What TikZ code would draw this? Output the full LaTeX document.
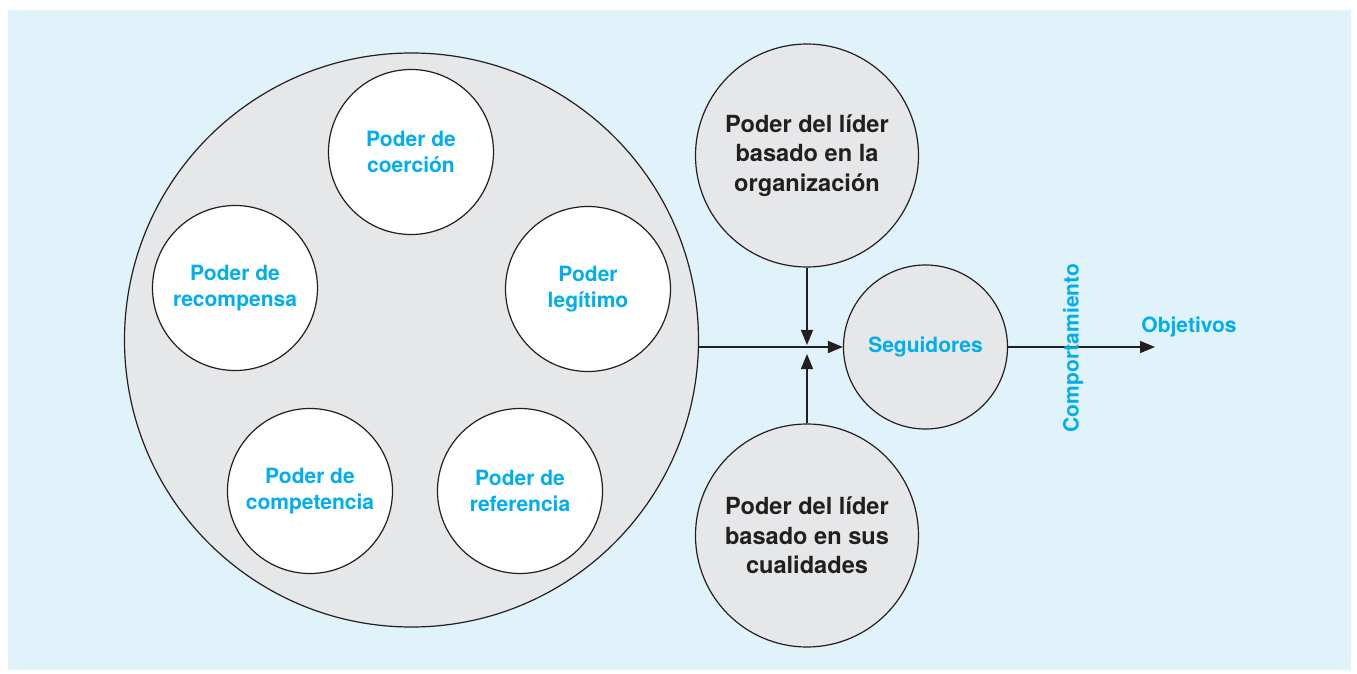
\documentclass[tikz,border=0pt]{standalone}
\usepackage{fontspec}
\setmainfont{TeX Gyre Heros}
\usetikzlibrary{arrows.meta,positioning}

\definecolor{fondo}{RGB}{224,243,251}
\definecolor{gris}{RGB}{230,231,232}
\definecolor{cian}{RGB}{0,174,239}
\definecolor{trazo}{RGB}{35,31,32}

\begin{document}
\begin{tikzpicture}[
      x=0.5pt, y=-0.5pt,
      font=\bfseries,
      fuentes/.style={circle, draw=trazo, line width=0.6pt, fill=gris,
        minimum size=287pt, inner sep=0pt},
      poder/.style={circle, draw=trazo, line width=0.6pt, fill=white,
        minimum size=82.5pt, inner sep=0pt, align=center,
        text=cian, font=\fontsize{10.5}{13}\bfseries\selectfont},
      lider/.style={circle, draw=trazo, line width=0.6pt, fill=gris,
        minimum size=111.5pt, inner sep=0pt, align=center,
        text=trazo, font=\fontsize{11.8}{14.8}\bfseries\selectfont},
      seguir/.style={circle, draw=trazo, line width=0.6pt, fill=gris,
        minimum size=82pt, inner sep=0pt, align=center,
        text=cian, font=\fontsize{10.5}{13}\bfseries\selectfont},
      rotulo/.style={text=cian, inner sep=0pt,
        font=\fontsize{10.5}{13}\bfseries\selectfont},
      flecha/.style={-{Triangle[length=7.5pt, width=6pt]}, line width=0.75pt,
        draw=trazo}
    ]
    \useasboundingbox (0,0) rectangle (1357,674);
    \fill[fondo] (8,10) rectangle (1351,670);

    % fuentes de poder
    \node[fuentes] (fuentes) at (411.5,340) {};
    \node[poder] (coercion) at (411,152) {Poder de\\coerción};
    \node[poder] (recompensa) at (235,288) {Poder de\\recompensa};
    \node[poder] (legitimo) at (588,289) {Poder\\legítimo};
    \node[poder] (competencia) at (310,491) {Poder de\\competencia};
    \node[poder] (referencia) at (520,491) {Poder de\\referencia};

    \node[lider] (organizacion) at (807,155.5)
      {Poder del líder\\basado en la\\organización};
    \node[lider] (cualidades) at (807,535.5)
      {Poder del líder\\basado en sus\\cualidades};
    \node[seguir] (seguidores) at (925.5,347) {Seguidores};

    \coordinate (cruce) at (807,347);
    \coordinate (meta) at (1155,347);

    \draw[flecha] (fuentes.east |- cruce) -- (seguidores.west);
    \draw[flecha] (organizacion.south) -- ([yshift=1pt]cruce);
    \draw[flecha] (cualidades.north) -- ([yshift=-3.5pt]cruce);
    \draw[flecha] (seguidores.east) -- (meta);

    \node[rotulo, rotate=90] (comportamiento) at (1073,348) {Comportamiento};
    \node[rotulo] (objetivos) at (1189,327) {Objetivos};
  \end{tikzpicture}
\end{document}
